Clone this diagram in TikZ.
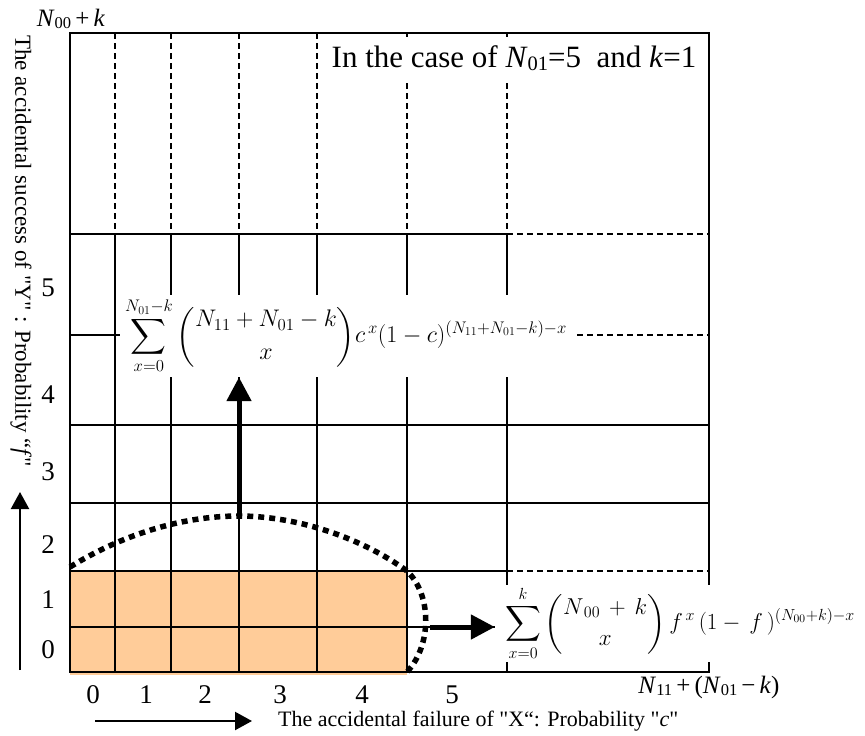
\RequirePackage{fix-cm}
\documentclass[tikz,border=0pt]{standalone}
\usepackage{fontspec}
\setmainfont{Liberation Serif}[Ligatures=TeXOff]
\usepackage{amsmath}
\usetikzlibrary{arrows.meta,positioning}
\definecolor{peach}{RGB}{255,204,153}
\newcommand{\lo}[1]{\raisebox{-0.1em}{\scalebox{0.66}{#1}}}

\begin{document}
\begin{tikzpicture}[
        x=1pt, y=-1pt,
        frame/.style={line width=2pt},
        gline/.style={line width=1.3pt},
        gdash/.style={line width=1.3pt, dash pattern=on 6pt off 4pt},
        bound/.style={line width=5.5pt, dash pattern=on 6pt off 5pt},
        bigarr/.style={line width=5pt, -{Triangle[length=24pt,width=24pt]}},
        axarr/.style={line width=2.2pt, -{Triangle[length=17pt,width=18pt]}},
        num/.style={font=\fontsize{27}{27}\selectfont, inner sep=0pt},
        lbl/.style={font=\fontsize{22}{22}\selectfont, inner sep=0pt},
        formula/.style={fill=white, inner sep=0pt},
    ]
    \useasboundingbox (0,0) rectangle (865,736);

    % Region 0..4 x 0..1
    \fill[peach] (70,571) rectangle (407,675);

    % Grid
    \foreach \x in {115,171,239,317,407,507} {
        \draw[gdash] (\x,33) -- (\x,234);
        \draw[gline] (\x,234) -- (\x,672);
    }
    \foreach \y in {234,335,571} {
        \draw[gline] (70,\y) -- (507,\y);
        \draw[gdash] (507,\y) -- (709,\y);
    }
    \foreach \y in {425,503,627}
        \draw[gline] (70,\y) -- (709,\y);
    \draw[frame] (70,33) rectangle (709,672);

    % Boundary
    \draw[bound] (70,567) .. controls (120,536) and (180,516) .. (239,516)
        .. controls (300,516) and (365,540) .. (407,571)
        .. controls (432,595) and (432,645) .. (407,672);

    % Formulas
    \node[formula, minimum width=453pt, minimum height=82pt] (sumc) at (346,336)
        {\fontsize{24}{28}\selectfont
        $\displaystyle\sum_{x=0}^{N_{01}-k}\binom{N_{11}+N_{01}-k}{x}c^{\,x}(1-c)^{(N_{11}+N_{01}-k)-x}$};
    \node[formula, minimum width=370pt, minimum height=77pt] (sumf) at (680,623.5)
        {\fontsize{23}{28}\selectfont
        $\displaystyle\sum_{x=0}^{k}\binom{N_{\,00}\,+\,k}{x}\,f^{\,x}\,(1-\,f\,)^{(N_{00}+k)-x}$};

    % Arrows to formulas
    \coordinate (peak) at (239,516);
    \coordinate (bulge) at (430,627);
    \draw[bigarr] (peak) -- (peak |- sumc.south);
    \draw[bigarr] (bulge) -- (sumf.west |- bulge);

    % Case text
    \node[fill=white, inner xsep=2pt, minimum height=42pt,
        font=\fontsize{31}{31}\selectfont] (case) at (514,58)
        {In the case of \textit{N}\lo{01}=5~~and \textit{k}=1};

    % Axis numbers
    \foreach \v/\yy in {0/650,1/600,2/545,3/472,4/395,5/288}
        \node[num] (yl\v) at (48,\yy) {\v};
    \foreach \v/\xx in {0/93,1/146,2/205,3/280,4/362,5/452}
        \node[num] (xl\v) at (\xx,695) {\v};

    % Axis ends
    \node[lbl, font=\fontsize{25}{25}\selectfont] (ytop) at (71,19)
        {\textit{N}\lo{00}\,+\,\textit{k}};
    \node[lbl, font=\fontsize{25}{25}\selectfont] (xend) at (709,687)
        {\textit{N}\lo{11}\,+\,(\textit{N}\lo{01}\,−\,\textit{k})};

    % Axis names
    \node[lbl, anchor=west] (xname) at (278,721)
        {The accidental failure of "X“: Probability "\textit{c}"};
    \coordinate (xa0) at (95,721);
    \draw[axarr] (xa0) -- ([xshift=-26pt]xname.west);
    \node[lbl, font=\fontsize{23}{23}\selectfont, rotate=-90, anchor=west] (yname) at (21,35)
        {The accidental success of "Y" : Probability “\textit{f}"};
    \coordinate (ya0) at (20,670);
    \coordinate (ya1) at (20,492);
    \draw[axarr] (ya0) -- (ya1);
\end{tikzpicture}
\end{document}
